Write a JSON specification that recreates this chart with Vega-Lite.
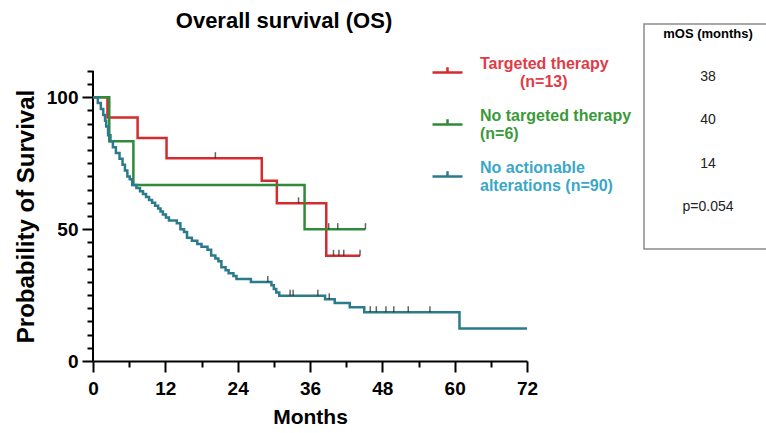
{
  "$schema": "https://vega.github.io/schema/vega-lite/v6.json",
  "background": "white",
  "padding": {"left": 14, "top": 10, "right": 0, "bottom": 0},
  "config": {"font": "Liberation Sans", "view": {"stroke": null}},
  "spacing": 105,
  "datasets": {
    "curves": [
      {"group": "Targeted therapy (n=13)", "months": 0, "survival": 100},
      {"group": "Targeted therapy (n=13)", "months": 2.4, "survival": 92.3},
      {"group": "Targeted therapy (n=13)", "months": 7.4, "survival": 84.6},
      {"group": "Targeted therapy (n=13)", "months": 12.2, "survival": 76.9},
      {"group": "Targeted therapy (n=13)", "months": 28.0, "survival": 68.4},
      {"group": "Targeted therapy (n=13)", "months": 30.5, "survival": 59.8},
      {"group": "Targeted therapy (n=13)", "months": 38.7, "survival": 39.9},
      {"group": "Targeted therapy (n=13)", "months": 44.3, "survival": 39.9},
      {"group": "No targeted therapy (n=6)", "months": 0, "survival": 100},
      {"group": "No targeted therapy (n=6)", "months": 2.7, "survival": 83.3},
      {"group": "No targeted therapy (n=6)", "months": 6.7, "survival": 66.7},
      {"group": "No targeted therapy (n=6)", "months": 35.1, "survival": 50},
      {"group": "No targeted therapy (n=6)", "months": 45.2, "survival": 50},
      {"group": "No actionable alterations (n=90)", "months": 0, "survival": 100},
      {"group": "No actionable alterations (n=90)", "months": 0.8, "survival": 97.8},
      {"group": "No actionable alterations (n=90)", "months": 1.3, "survival": 95.6},
      {"group": "No actionable alterations (n=90)", "months": 1.7, "survival": 93.3},
      {"group": "No actionable alterations (n=90)", "months": 2.0, "survival": 91.1},
      {"group": "No actionable alterations (n=90)", "months": 2.2, "survival": 88.9},
      {"group": "No actionable alterations (n=90)", "months": 2.5, "survival": 85.6},
      {"group": "No actionable alterations (n=90)", "months": 2.9, "survival": 83.3},
      {"group": "No actionable alterations (n=90)", "months": 3.3, "survival": 81.1},
      {"group": "No actionable alterations (n=90)", "months": 3.8, "survival": 78.9},
      {"group": "No actionable alterations (n=90)", "months": 4.4, "survival": 76.7},
      {"group": "No actionable alterations (n=90)", "months": 4.9, "survival": 74.4},
      {"group": "No actionable alterations (n=90)", "months": 5.3, "survival": 72.2},
      {"group": "No actionable alterations (n=90)", "months": 5.7, "survival": 70.0},
      {"group": "No actionable alterations (n=90)", "months": 6.1, "survival": 68.9},
      {"group": "No actionable alterations (n=90)", "months": 6.5, "survival": 66.7},
      {"group": "No actionable alterations (n=90)", "months": 7.2, "survival": 65.6},
      {"group": "No actionable alterations (n=90)", "months": 7.8, "survival": 64.4},
      {"group": "No actionable alterations (n=90)", "months": 8.3, "survival": 63.3},
      {"group": "No actionable alterations (n=90)", "months": 8.8, "survival": 62.2},
      {"group": "No actionable alterations (n=90)", "months": 9.3, "survival": 61.1},
      {"group": "No actionable alterations (n=90)", "months": 9.8, "survival": 60.0},
      {"group": "No actionable alterations (n=90)", "months": 10.3, "survival": 58.9},
      {"group": "No actionable alterations (n=90)", "months": 10.8, "survival": 57.8},
      {"group": "No actionable alterations (n=90)", "months": 11.2, "survival": 56.7},
      {"group": "No actionable alterations (n=90)", "months": 11.6, "survival": 55.6},
      {"group": "No actionable alterations (n=90)", "months": 12.1, "survival": 54.4},
      {"group": "No actionable alterations (n=90)", "months": 12.6, "survival": 53.3},
      {"group": "No actionable alterations (n=90)", "months": 13.9, "survival": 52.2},
      {"group": "No actionable alterations (n=90)", "months": 14.5, "survival": 50.0},
      {"group": "No actionable alterations (n=90)", "months": 15.1, "survival": 48.9},
      {"group": "No actionable alterations (n=90)", "months": 15.6, "survival": 46.7},
      {"group": "No actionable alterations (n=90)", "months": 16.4, "survival": 45.6},
      {"group": "No actionable alterations (n=90)", "months": 17.3, "survival": 44.4},
      {"group": "No actionable alterations (n=90)", "months": 18.0, "survival": 43.3},
      {"group": "No actionable alterations (n=90)", "months": 19.0, "survival": 42.2},
      {"group": "No actionable alterations (n=90)", "months": 19.6, "survival": 40.0},
      {"group": "No actionable alterations (n=90)", "months": 20.3, "survival": 38.9},
      {"group": "No actionable alterations (n=90)", "months": 20.8, "survival": 37.8},
      {"group": "No actionable alterations (n=90)", "months": 21.3, "survival": 35.6},
      {"group": "No actionable alterations (n=90)", "months": 22.0, "survival": 34.4},
      {"group": "No actionable alterations (n=90)", "months": 22.5, "survival": 33.3},
      {"group": "No actionable alterations (n=90)", "months": 23.3, "survival": 32.2},
      {"group": "No actionable alterations (n=90)", "months": 23.8, "survival": 31.1},
      {"group": "No actionable alterations (n=90)", "months": 26.2, "survival": 30.0},
      {"group": "No actionable alterations (n=90)", "months": 29.6, "survival": 28.7},
      {"group": "No actionable alterations (n=90)", "months": 30.0, "survival": 27.3},
      {"group": "No actionable alterations (n=90)", "months": 30.4, "survival": 26.0},
      {"group": "No actionable alterations (n=90)", "months": 30.9, "survival": 24.7},
      {"group": "No actionable alterations (n=90)", "months": 38.5, "survival": 23.4},
      {"group": "No actionable alterations (n=90)", "months": 40.1, "survival": 22.0},
      {"group": "No actionable alterations (n=90)", "months": 42.6, "survival": 20.4},
      {"group": "No actionable alterations (n=90)", "months": 45.0, "survival": 18.5},
      {"group": "No actionable alterations (n=90)", "months": 60.8, "survival": 12.3},
      {"group": "No actionable alterations (n=90)", "months": 72.0, "survival": 12.3}
    ],
    "censored": [
      {"group": "Targeted therapy (n=13)", "months": 20.3, "survival": 76.9},
      {"group": "Targeted therapy (n=13)", "months": 34.1, "survival": 59.8},
      {"group": "Targeted therapy (n=13)", "months": 39.9, "survival": 39.9},
      {"group": "Targeted therapy (n=13)", "months": 40.8, "survival": 39.9},
      {"group": "Targeted therapy (n=13)", "months": 41.6, "survival": 39.9},
      {"group": "Targeted therapy (n=13)", "months": 44.3, "survival": 39.9},
      {"group": "No targeted therapy (n=6)", "months": 39.1, "survival": 50},
      {"group": "No targeted therapy (n=6)", "months": 40.6, "survival": 50},
      {"group": "No targeted therapy (n=6)", "months": 45.2, "survival": 50},
      {"group": "No actionable alterations (n=90)", "months": 29.0, "survival": 30.0},
      {"group": "No actionable alterations (n=90)", "months": 32.7, "survival": 24.7},
      {"group": "No actionable alterations (n=90)", "months": 33.2, "survival": 24.7},
      {"group": "No actionable alterations (n=90)", "months": 37.3, "survival": 24.7},
      {"group": "No actionable alterations (n=90)", "months": 39.2, "survival": 23.4},
      {"group": "No actionable alterations (n=90)", "months": 46.0, "survival": 18.5},
      {"group": "No actionable alterations (n=90)", "months": 47.0, "survival": 18.5},
      {"group": "No actionable alterations (n=90)", "months": 48.6, "survival": 18.5},
      {"group": "No actionable alterations (n=90)", "months": 49.9, "survival": 18.5},
      {"group": "No actionable alterations (n=90)", "months": 52.3, "survival": 18.5},
      {"group": "No actionable alterations (n=90)", "months": 55.9, "survival": 18.5}
    ],
    "axisOrigin": [
      {"months": 0, "survival": 0}
    ],
    "table": [
      {"label": "mOS (months)"},
      {"label": "38"},
      {"label": "40"},
      {"label": "14"},
      {"label": "p=0.054"}
    ]
  },
  "hconcat": [
    {
      "width": 434,
      "height": 337,
      "title": {"text": "Overall survival (OS)", "fontSize": 22, "fontWeight": "bold", "color": "black", "anchor": "middle", "frame": "group", "dx": -26, "offset": -9},
      "encoding": {
        "x": {
          "field": "months", "type": "quantitative",
          "scale": {"domain": [0, 72], "nice": false, "zero": true},
          "axis": {
            "values": [0, 6, 12, 18, 24, 30, 36, 42, 48, 54, 60, 66, 72],
            "labelExpr": "datum.value % 12 === 0 ? datum.label : ''",
            "tickSize": {"condition": {"test": "datum.value % 12 === 0", "value": 11}, "value": 6},
            "labelFlush": false, "labelOverlap": false, "grid": false,
            "domainColor": "black", "domainWidth": 2, "tickColor": "black", "tickWidth": 2,
            "labelFontSize": 19, "labelFontWeight": "bold", "labelColor": "black", "labelPadding": 7,
            "title": "Months", "titleFontSize": 21, "titleFontWeight": "bold", "titleColor": "black", "titlePadding": 8
          }
        },
        "y": {
          "field": "survival", "type": "quantitative",
          "scale": {"domain": [0, 127.8], "nice": false, "zero": true},
          "axis": {
            "values": [0, 5, 10, 15, 20, 25, 30, 35, 40, 45, 50, 55, 60, 65, 70, 75, 80, 85, 90, 95, 100, 105, 110],
            "labelExpr": "datum.value === 0 || datum.value === 50 || datum.value === 100 ? datum.label : ''",
            "tickSize": {"condition": {"test": "datum.value === 0 || datum.value === 50 || datum.value === 100", "value": 11}, "value": 6},
            "labelOverlap": false, "labelFlush": false, "grid": false, "domain": false,
            "tickColor": "black", "tickWidth": 2,
            "labelFontSize": 19, "labelFontWeight": "bold", "labelColor": "black", "labelPadding": 4,
            "title": "Probability of Survival", "titleFontSize": 24, "titleFontWeight": "bold", "titleColor": "black", "titlePadding": 8, "titleY": 192
          }
        }
      },
      "layer": [
        {
          "data": {"name": "axisOrigin"},
          "mark": {"type": "rule", "color": "black", "strokeWidth": 2},
          "encoding": {
            "y2": {"datum": 110}
          }
        },
        {
          "data": {"name": "curves"},
          "mark": {"type": "line", "interpolate": "step-after", "strokeWidth": 2.5},
          "encoding": {
            "color": {
              "field": "group", "type": "nominal",
              "scale": {
                "domain": ["Targeted therapy (n=13)", "No targeted therapy (n=6)", "No actionable alterations (n=90)"],
                "range": ["#d42b2e", "#2f8b3a", "#2b7b8c"]
              },
              "legend": {
                "title": null, "orient": "none", "legendX": 338, "legendY": 32,
                "symbolType": "M-1,0L1,0M0,0L0,-0.35", "symbolSize": 900, "symbolStrokeWidth": 2.5,
                "labelFontSize": 16, "labelFontWeight": "bold", "labelLimit": 300, "labelOffset": 16, "rowPadding": 17,
                "labelBaseline": "line-bottom",
                "labelExpr": "datum.label === 'Targeted therapy (n=13)' ? ['Targeted therapy', '\u200b\u00a0\u00a0\u00a0\u00a0\u00a0\u00a0\u00a0\u00a0\u00a0(n=13)'] : datum.label === 'No targeted therapy (n=6)' ? ['No targeted therapy', '(n=6)'] : ['No actionable', 'alterations (n=90)']",
                "labelColor": {"expr": "datum.value === 'Targeted therapy (n=13)' ? '#e03c48' : datum.value === 'No targeted therapy (n=6)' ? '#3a9a3a' : '#3aa7c9'"}
              }
            }
          }
        },
        {
          "data": {"name": "censored"},
          "mark": {"type": "tick", "orient": "vertical", "size": 6, "thickness": 1.5, "yOffset": -3, "color": "#222222"}
        }
      ]
    },
    {
      "width": 128,
      "height": 225,
      "view": {"stroke": "#8c8c8c", "strokeWidth": 1.5},
      "data": {"name": "table"},
      "encoding": {
        "y": {
          "field": "label", "type": "ordinal",
          "sort": ["mOS (months)", "38", "40", "14", "p=0.054"],
          "scale": {"padding": 0.6, "align": 0.19},
          "axis": null
        },
        "text": {"field": "label"}
      },
      "layer": [
        {
          "transform": [{"filter": "datum.label === 'mOS (months)'"}],
          "mark": {"type": "text", "fontSize": 13, "fontWeight": "bold", "color": "black"}
        },
        {
          "transform": [{"filter": "datum.label !== 'mOS (months)'"}],
          "mark": {"type": "text", "fontSize": 14, "color": "#222222"}
        }
      ]
    }
  ]
}
